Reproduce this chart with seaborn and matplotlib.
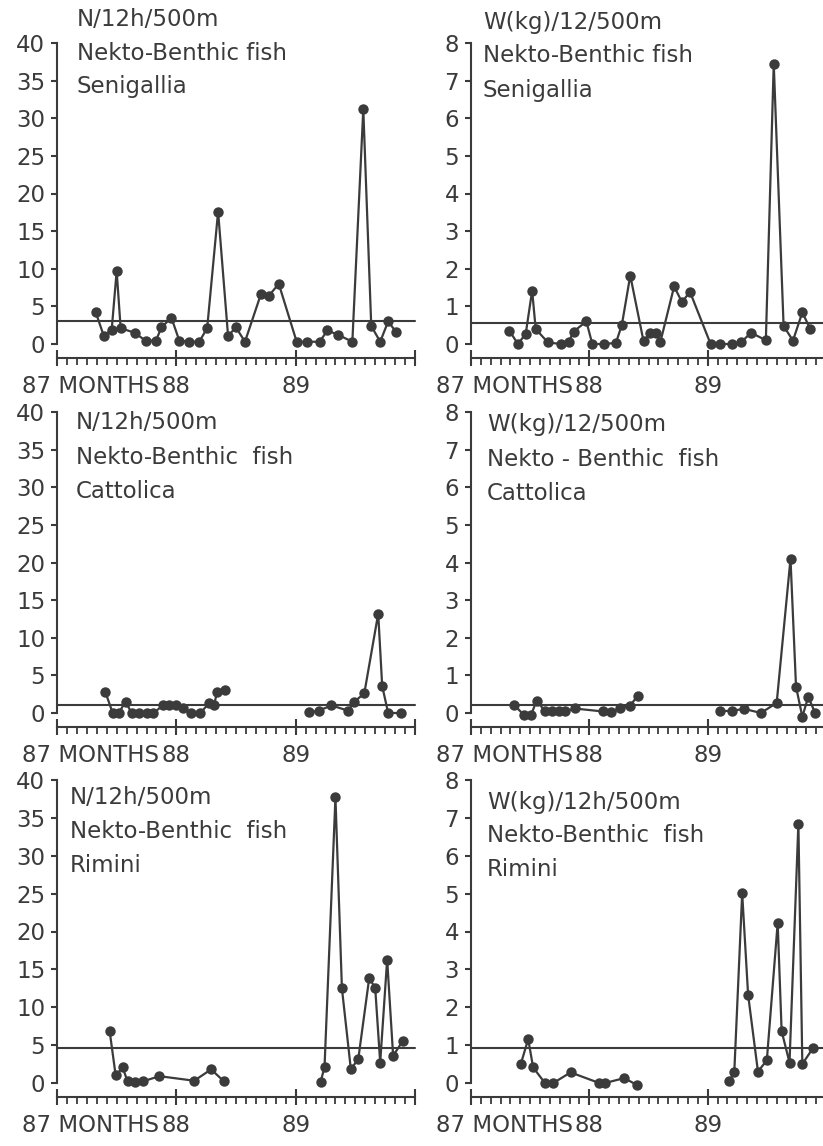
import numpy as np
import pandas as pd
import seaborn as sns
import matplotlib.pyplot as plt
from matplotlib.ticker import MultipleLocator

# x = months counted from January 1987
# Senigallia (one continuous series)
sen_n_month = [3.9, 4.7, 5.5, 6.0, 6.4, 7.8, 8.9, 9.95, 10.5, 11.5, 12.3, 13.3, 14.3, 15.1, 16.2, 17.2,
               18.0, 18.9, 20.5, 21.3, 22.3, 24.1, 25.1, 26.4, 27.2, 28.3, 29.7, 30.8, 31.6, 32.5, 33.3, 34.1]
sen_n_value = [4.2, 1.1, 1.9, 9.7, 2.1, 1.5, 0.45, 0.45, 2.2, 3.5, 0.45, 0.3, 0.3, 2.1, 17.6, 1.1,
               2.2, 0.3, 6.6, 6.4, 8.0, 0.3, 0.3, 0.3, 1.8, 1.2, 0.3, 31.2, 2.4, 0.3, 3.0, 1.6]
sen_w_month = [3.9, 4.76, 5.55, 6.2, 6.56, 7.8, 9.15, 9.9, 10.4, 11.7, 12.3, 13.5, 14.7, 15.3, 16.15, 17.5, 18.2,
               18.8, 19.2, 20.6, 21.4, 22.2, 24.3, 25.3, 26.5, 27.4, 28.4, 29.9, 30.7, 31.7, 32.65, 33.6, 34.4]
sen_w_value = [0.35, 0.0, 0.27, 1.42, 0.4, 0.04, 0.0, 0.05, 0.33, 0.6, 0.0, 0.0, 0.03, 0.51, 1.82, 0.07, 0.3,
               0.3, 0.05, 1.53, 1.11, 1.39, 0.0, 0.0, 0.0, 0.05, 0.3, 0.1, 7.45, 0.48, 0.09, 0.84, 0.4]

# Cattolica (two sampling periods)
cat_n_month_a = [4.86, 5.6, 6.2, 6.9, 7.5, 8.2, 9.0, 9.7, 10.65, 11.3, 12.0, 12.7, 13.5, 14.4, 15.3, 15.8, 16.1, 16.85]
cat_n_value_a = [2.8, 0.0, 0.0, 1.5, 0.0, 0.0, 0.0, 0.0, 1.0, 1.0, 1.0, 0.7, 0.0, 0.0, 1.3, 1.1, 2.8, 3.0]
cat_n_month_b = [25.3, 26.3, 27.6, 29.3, 29.9, 30.9, 32.3, 32.7, 33.3, 34.6]
cat_n_value_b = [0.1, 0.3, 1.0, 0.3, 1.5, 2.6, 13.2, 3.6, 0.0, 0.0]
cat_w_month_a = [4.4, 5.35, 6.1, 6.65, 7.5, 8.2, 8.9, 9.55, 10.5, 13.4, 14.2, 15.1, 16.1, 16.9]
cat_w_value_a = [0.21, -0.05, -0.05, 0.33, 0.05, 0.05, 0.04, 0.04, 0.12, 0.04, 0.02, 0.12, 0.19, 0.45]
cat_w_month_b = [25.3, 26.5, 27.7, 29.4, 31.0, 32.4, 32.96, 33.6, 34.2, 34.9]
cat_w_value_b = [0.05, 0.06, 0.11, 0.0, 0.27, 4.1, 0.7, -0.1, 0.43, 0.0]

# Rimini (two sampling periods)
rim_n_month_a = [5.3, 5.9, 6.6, 7.1, 7.8, 8.6, 10.3, 13.8, 15.5, 16.8]
rim_n_value_a = [6.8, 1.0, 2.05, 0.2, 0.15, 0.2, 0.9, 0.3, 1.8, 0.2]
rim_n_month_b = [26.5, 26.9, 28.0, 28.65, 29.55, 30.3, 31.4, 32.0, 32.5, 33.2, 33.8, 34.8]
rim_n_value_b = [0.15, 2.05, 37.7, 12.5, 1.8, 3.2, 13.9, 12.5, 2.7, 16.3, 3.6, 5.6]
rim_w_month_a = [5.05, 5.8, 6.3, 7.5, 8.35, 10.1, 13.0, 13.6, 15.55, 16.8]
rim_w_value_a = [0.5, 1.16, 0.41, 0.0, 0.0, 0.28, 0.0, 0.0, 0.13, -0.05]
rim_w_month_b = [26.2, 26.7, 27.5, 28.1, 29.1, 30.0, 31.1, 31.5, 32.3, 33.2, 33.6, 34.7]
rim_w_value_b = [0.05, 0.29, 5.01, 2.33, 0.3, 0.6, 4.23, 1.37, 0.54, 6.85, 0.5, 0.93]

# horizontal reference (mean) lines
means = [3.0, 0.55, 1.0, 0.2, 4.6, 0.92]

titles = [
    ['N/12h/500m', 'Nekto-Benthic fish', 'Senigallia'],
    ['W(kg)/12/500m', 'Nekto-Benthic fish', 'Senigallia'],
    ['N/12h/500m', 'Nekto-Benthic  fish', 'Cattolica'],
    ['W(kg)/12/500m', 'Nekto - Benthic  fish', 'Cattolica'],
    ['N/12h/500m', 'Nekto-Benthic  fish', 'Rimini'],
    ['W(kg)/12h/500m', 'Nekto-Benthic  fish', 'Rimini'],
]
year_ticks = [0, 12, 24, 36]
year_labels = ['', '88', '89', '']


def segs(*pairs):
    frames = []
    for i, (m, v) in enumerate(pairs):
        frames.append(pd.DataFrame({'month': m, 'value': v, 'seg': i}))
    return pd.concat(frames, ignore_index=True)


panels = [
    segs((sen_n_month, sen_n_value)),
    segs((sen_w_month, sen_w_value)),
    segs((cat_n_month_a, cat_n_value_a), (cat_n_month_b, cat_n_value_b)),
    segs((cat_w_month_a, cat_w_value_a), (cat_w_month_b, cat_w_value_b)),
    segs((rim_n_month_a, rim_n_value_a), (rim_n_month_b, rim_n_value_b)),
    segs((rim_w_month_a, rim_w_value_a), (rim_w_month_b, rim_w_value_b)),
]

sns.set_style('ticks')
plt.rcParams['font.family'] = ['DejaVu Sans']
ink = '#3b3b3b'
W, H = 823, 1146

fig = plt.figure(figsize=(W / 100, H / 100), dpi=100)

# layout in pixels
col_left = [57, 471]
col_width = [358, 355]
row_y0 = [344, 713, 1083]
row_top = [43, 412, 780]
text_pos = [(77, 19), (483, 22), (76, 423), (487, 425), (70, 797), (487, 802)]

for k, df in enumerate(panels):
    r, c = divmod(k, 2)
    ax = fig.add_axes([col_left[c] / W, 1 - row_y0[r] / H,
                       col_width[c] / W, (row_y0[r] - row_top[r]) / H])
    ax.patch.set_alpha(0)
    sns.lineplot(data=df, x='month', y='value', units='seg', estimator=None,
                 color=ink, marker='o', markersize=7.5, markeredgecolor=ink,
                 markeredgewidth=0, linewidth=1.6, ax=ax)
    for ln in ax.lines:
        ln.set_clip_on(False)
    ax.axhline(means[k], color=ink, lw=1.5, clip_on=False)

    ymax = 40 if c == 0 else 8
    ax.set_ylim(0, ymax)
    ax.set_xlim(0, 36)
    ax.set_yticks(np.arange(0, ymax + 1, 5 if c == 0 else 1))
    ax.set_xticks(year_ticks)
    ax.xaxis.set_minor_locator(MultipleLocator(1))
    sns.despine(ax=ax, offset={'bottom': 10, 'left': 0}, trim=True)
    ax.set_xticklabels(year_labels)
    ax.set_xlabel('')
    ax.set_ylabel('')

    for s in ['left', 'bottom']:
        ax.spines[s].set_linewidth(1.5)
        ax.spines[s].set_color(ink)
    ax.tick_params(axis='y', direction='out', length=4.5, width=1.5, color=ink,
                   labelsize=16.5, labelcolor=ink, pad=4)
    ax.tick_params(axis='x', which='major', direction='inout', length=11, width=1.5,
                   color=ink, labelsize=16.5, labelcolor=ink, pad=7)
    ax.tick_params(axis='x', which='minor', direction='out', length=5, width=1.3, color=ink)
    ax.annotate('87 MONTHS', xy=(10.3, 0), xycoords=('data', 'axes fraction'),
                xytext=(0, -22.5), textcoords='offset points', ha='right', va='top',
                fontsize=16.5, color=ink, annotation_clip=False)

    tx, ty = text_pos[k]
    for j, line in enumerate(titles[k]):
        fig.text(tx / W, 1 - (ty + 34 * j) / H, line, ha='left', va='center',
                 fontsize=16.5, color=ink)

fig.savefig('out.png', dpi=100)
